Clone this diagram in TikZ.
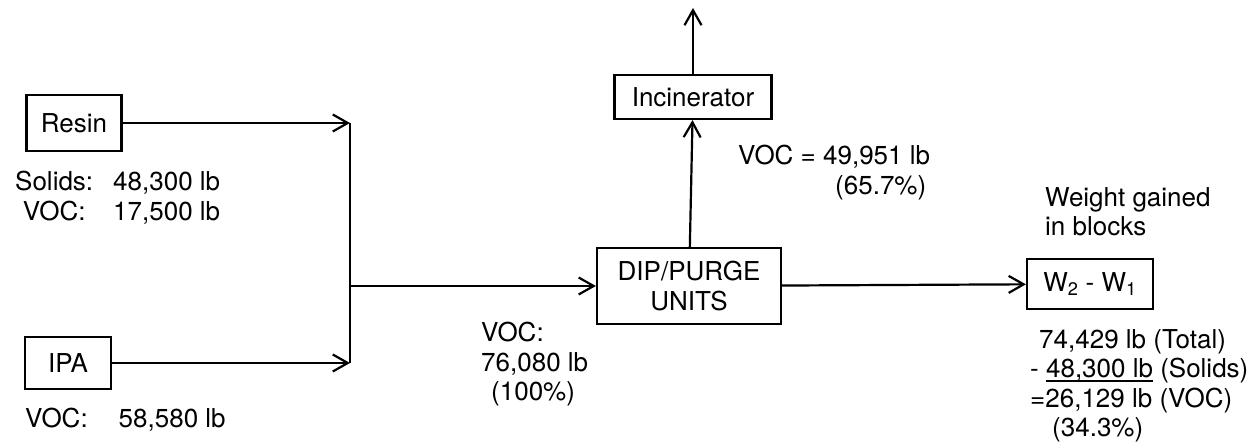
\documentclass[tikz,border=0pt]{standalone}
\usepackage{fontspec}
\setmainfont{TeX Gyre Heros}
\usetikzlibrary{arrows.meta,positioning}
\newcommand\ulnum[1]{\setbox0\hbox{#1}\rlap{\rule[-4pt]{\wd0}{1.6pt}}\box0\relax}

\begin{document}
\begin{tikzpicture}[x=1pt, y=-1pt, >={Straight Barb[length=15pt,width=17pt]},
  every node/.style={font=\fontsize{26}{29.5}\selectfont, inner sep=0pt},
  box/.style={draw, line width=2.2pt},
  flow/.style={->, line width=2.2pt}]
\useasboundingbox (0,0) rectangle (1256,443);
% units
\node (resin) [box, minimum width=95pt, minimum height=56pt] at (74,123) {Resin};
\node (ipa) [box, minimum width=86pt, minimum height=52pt] at (68,363) {IPA};
\node (dip) [box, minimum width=184pt, minimum height=76pt, align=center] at (689,286) {DIP/PURGE\\UNITS};
\node (incin) [box, minimum width=157pt, minimum height=44pt] at (693,97) {Incinerator};
\node (wdiff) [box, minimum width=126pt, minimum height=50pt] at (1090,284) {W\textsubscript{2} - W\textsubscript{1}};
% junction
\coordinate (rtop) at (350,123);
\coordinate (ibot) at (350,363);
\coordinate (join) at (350,286);
\coordinate (exhaust) at (693,8);
\draw[flow] (resin) -- (rtop);
\draw[flow] (ipa) -- (ibot);
\draw[line width=2.2pt] (rtop) -- (ibot);
\draw[flow] (join) -- (dip);
\draw[flow] (dip) -- (incin);
\draw[flow] (incin) -- (exhaust);
\draw[flow] (dip) -- (wdiff);
% stream data
\node (resindata) [anchor=north west] at (15,170) {\begin{tabular}{@{}c@{\hspace{20pt}}l@{}}Solids: & 48,300 lb\\VOC: & 17,500 lb\end{tabular}};
\node (ipadata) [anchor=west] at (25,420) {VOC:\hspace{31pt}58,580 lb};
\node (feeddata) [anchor=north west, align=left] at (481,322) {VOC:\\76,080 lb\\\hspace*{10pt}(100\%)};
\node (incdata) [anchor=north west, align=left] at (738,145) {VOC = 49,951 lb\\\hspace*{97pt}(65.7\%)};
\node (wlabel) [anchor=north west, align=left] at (1045,187) {Weight gained\\in blocks};
\node (wdata) [anchor=north west, align=left] at (1030,329) {\hspace*{9pt}74,429 lb (Total)\\- \ulnum{48,300 lb} (Solids)\\=26,129 lb (VOC)\\\hspace*{22pt}(34.3\%)};
\end{tikzpicture}
\end{document}
